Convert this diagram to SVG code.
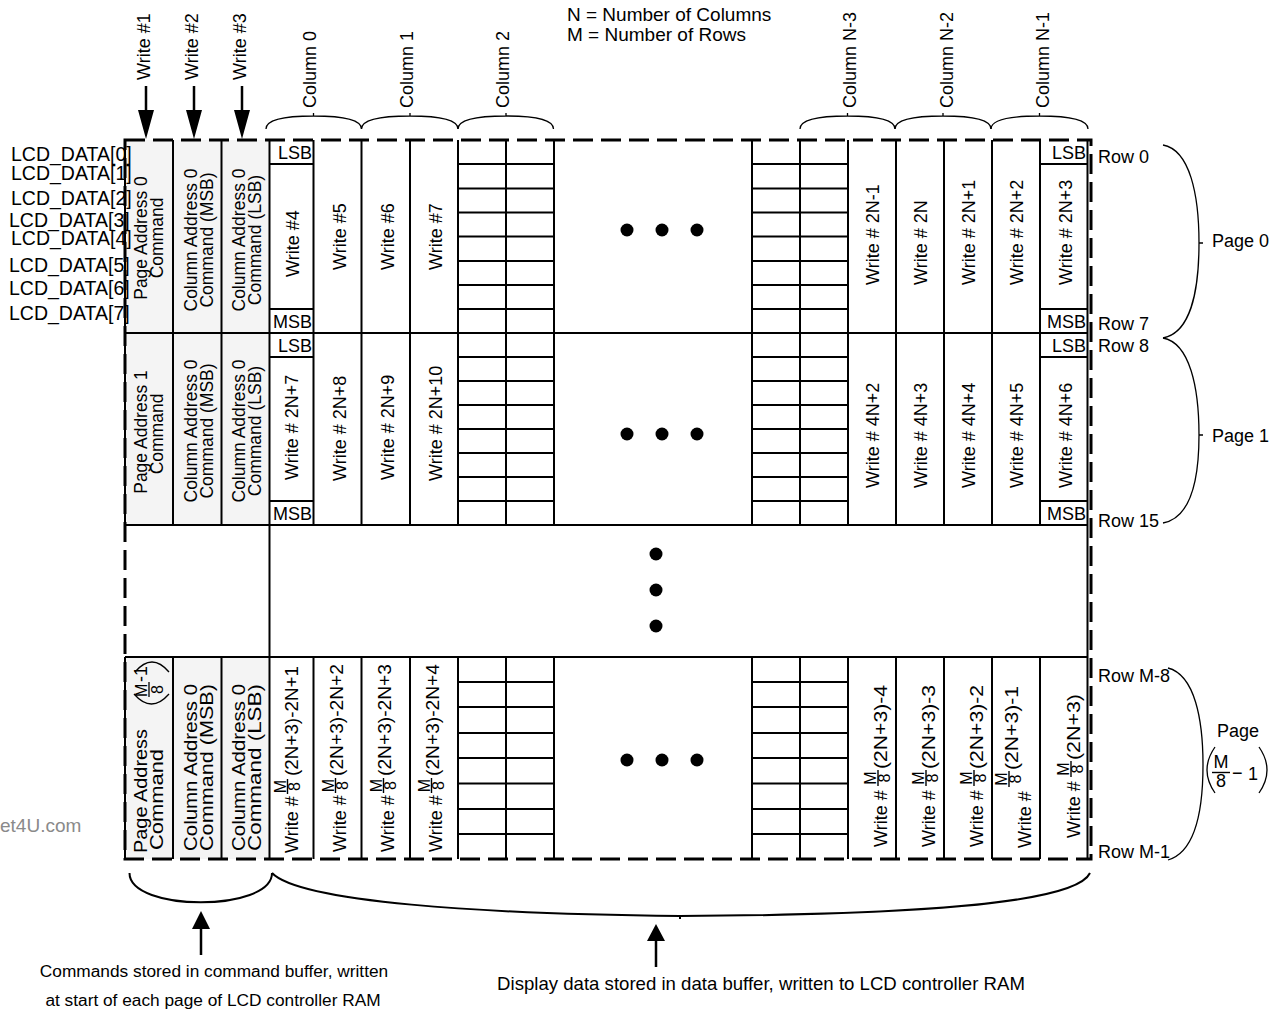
<svg xmlns="http://www.w3.org/2000/svg" width="1280" height="1011" viewBox="0 0 1280 1011">
<style>
.t{font-family:"Liberation Sans",Arial,Helvetica,sans-serif;fill:#000}
.s18{font-size:18px}
.s175{font-size:17.5px}
.s195{font-size:19.5px}
.f{font-size:16px}
.ln{stroke:#000;stroke-width:2;fill:none}
.thin{stroke:#000;stroke-width:1.3;fill:none}
.br{stroke:#000;stroke-width:2;fill:none}
.bar{stroke:#000;stroke-width:1.4}
.cmd{fill:#f4f4f4}
.dash{stroke:#000;stroke-width:3;fill:none;stroke-dasharray:20 8}
</style>
<rect width="1280" height="1011" fill="#fff"/>

<!-- legend -->
<g id="legend">
<text class="t" style="font-size:19px" x="567" y="21">N = Number of Columns</text>
<text class="t" style="font-size:19px" x="567" y="40.5">M = Number of Rows</text>
</g>

<text class="t" x="0" y="832" style="font-size:19px;fill:#8a8a8a">et4U.com</text>

<!-- command cell fills -->
<g id="cmd-fills">
<rect class="cmd" x="125" y="140" width="144.5" height="193"/>
<rect class="cmd" x="125" y="333" width="144.5" height="192"/>
<rect class="cmd" x="125" y="657" width="144.5" height="202"/>
</g>

<!-- page 0 -->
<g id="page0">
<path class="ln" d="M125,140V333 M173,140V333 M221.5,140V333 M313.5,140V333 M361.5,140V333 M410,140V333 M458,140V333 M506,140V333 M554,140V333 M752,140V333 M800,140V333 M848,140V333 M896,140V333 M944,140V333 M992,140V333 M1040,140V333"/>
<path class="ln" d="M269.5,164H313.5 M269.5,309H313.5 M1040,164H1087.5 M1040,309H1087.5"/>
<path class="ln" d="M458,164H554 M458,188.5H554 M458,212.5H554 M458,236.5H554 M458,261H554 M458,285H554 M458,309H554 M752,164H848 M752,188.5H848 M752,212.5H848 M752,236.5H848 M752,261H848 M752,285H848 M752,309H848"/>
<g class="t s175" text-anchor="middle">
<text transform="translate(146.5 238) rotate(-90)">Page Address 0</text>
<text transform="translate(163 238) rotate(-90)">Command</text>
<text transform="translate(196.5 240) rotate(-90)">Column Address 0</text>
<text transform="translate(212.5 240) rotate(-90)">Command (MSB)</text>
<text transform="translate(244.5 240) rotate(-90)">Column Address 0</text>
<text transform="translate(260.5 240) rotate(-90)">Command (LSB)</text>
</g>
<g class="t s18">
<text x="312" y="159" text-anchor="end">LSB</text>
<text x="312" y="328" text-anchor="end">MSB</text>
<text x="1086" y="159" text-anchor="end">LSB</text>
<text x="1086" y="328" text-anchor="end">MSB</text>
<text transform="translate(298.5 277) rotate(-90)">Write #4</text>
<text transform="translate(346 270) rotate(-90)">Write #5</text>
<text transform="translate(394 270) rotate(-90)">Write #6</text>
<text transform="translate(442 270) rotate(-90)">Write #7</text>
<text transform="translate(879 285) rotate(-90)">Write # 2N-1</text>
<text transform="translate(927 285) rotate(-90)">Write # 2N</text>
<text transform="translate(975 285) rotate(-90)">Write # 2N+1</text>
<text transform="translate(1023 285) rotate(-90)">Write # 2N+2</text>
<text transform="translate(1072 285) rotate(-90)">Write # 2N+3</text>
</g>
<circle cx="627" cy="230" r="6.5"/><circle cx="662" cy="230" r="6.5"/><circle cx="697" cy="230" r="6.5"/>
</g>

<!-- page 1 -->
<g id="page1">
<path class="ln" d="M125,333V525 M173,333V525 M221.5,333V525 M313.5,333V525 M361.5,333V525 M410,333V525 M458,333V525 M506,333V525 M554,333V525 M752,333V525 M800,333V525 M848,333V525 M896,333V525 M944,333V525 M992,333V525 M1040,333V525"/>
<path class="ln" d="M269.5,357H313.5 M269.5,501H313.5 M1040,357H1087.5 M1040,501H1087.5"/>
<path class="ln" d="M458,357H554 M458,381H554 M458,405H554 M458,429H554 M458,453H554 M458,477H554 M458,501H554 M752,357H848 M752,381H848 M752,405H848 M752,429H848 M752,453H848 M752,477H848 M752,501H848"/>
<g class="t s175" text-anchor="middle">
<text transform="translate(146.5 432) rotate(-90)">Page Address 1</text>
<text transform="translate(163 434) rotate(-90)">Command</text>
<text transform="translate(196.5 431) rotate(-90)">Column Address 0</text>
<text transform="translate(212.5 431) rotate(-90)">Command (MSB)</text>
<text transform="translate(244.5 431) rotate(-90)">Column Address 0</text>
<text transform="translate(260.5 431) rotate(-90)">Command (LSB)</text>
</g>
<g class="t s18">
<text x="312" y="352" text-anchor="end">LSB</text>
<text x="312" y="520" text-anchor="end">MSB</text>
<text x="1086" y="352" text-anchor="end">LSB</text>
<text x="1086" y="520" text-anchor="end">MSB</text>
<text transform="translate(298 480) rotate(-90)">Write # 2N+7</text>
<text transform="translate(346 481) rotate(-90)">Write # 2N+8</text>
<text transform="translate(394 480) rotate(-90)">Write # 2N+9</text>
<text transform="translate(442 481) rotate(-90)">Write # 2N+10</text>
<text transform="translate(879 488) rotate(-90)">Write # 4N+2</text>
<text transform="translate(927 488) rotate(-90)">Write # 4N+3</text>
<text transform="translate(975 488) rotate(-90)">Write # 4N+4</text>
<text transform="translate(1023 488) rotate(-90)">Write # 4N+5</text>
<text transform="translate(1072 488) rotate(-90)">Write # 4N+6</text>
</g>
<circle cx="627" cy="434" r="6.5"/><circle cx="662" cy="434" r="6.5"/><circle cx="697" cy="434" r="6.5"/>
</g>

<!-- gap region -->
<g id="gap">
<path class="ln" d="M125,333H1087.5 M125,525H1087.5 M125,657H1087.5 M269.5,140V859 M1087.5,140V859"/>
<circle cx="656" cy="554" r="6.5"/><circle cx="656" cy="590" r="6.5"/><circle cx="656" cy="626" r="6.5"/>
</g>

<!-- last page -->
<g id="page-last">
<path class="ln" d="M125,657V859 M173,657V859 M221.5,657V859 M313.5,657V859 M361.5,657V859 M410,657V859 M458,657V859 M506,657V859 M554,657V859 M752,657V859 M800,657V859 M848,657V859 M896,657V859 M944,657V859 M992,657V859 M1040,657V859"/>
<path class="ln" d="M458,682H554 M458,707H554 M458,733H554 M458,758H554 M458,783.5H554 M458,809H554 M458,834H554 M752,682H848 M752,707H848 M752,733H848 M752,758H848 M752,783.5H848 M752,809H848 M752,834H848"/>
<g class="t s18">
<text transform="translate(146.5 853) rotate(-90)" textLength="124" lengthAdjust="spacingAndGlyphs">Page Address</text>
<text transform="translate(162.5 850) rotate(-90)" textLength="101" lengthAdjust="spacingAndGlyphs">Command</text>
<text transform="translate(147 697) rotate(-90)" class="f">M</text>
<text transform="translate(163 694) rotate(-90)" class="f">8</text>
<text transform="translate(147 682) rotate(-90)">-1</text>
<text transform="translate(196.5 851) rotate(-90)" textLength="167" lengthAdjust="spacingAndGlyphs">Column Address 0</text>
<text transform="translate(212.5 851) rotate(-90)" textLength="167" lengthAdjust="spacingAndGlyphs">Command (MSB)</text>
<text transform="translate(244.5 851) rotate(-90)" textLength="167" lengthAdjust="spacingAndGlyphs">Column Address 0</text>
<text transform="translate(260.5 851) rotate(-90)" textLength="167" lengthAdjust="spacingAndGlyphs">Command (LSB)</text>
</g>
<path class="thin" d="M149,682V697"/>
<path class="thin" d="M134,694 Q151.5,714 169,694"/>
<path class="thin" d="M135,672 Q152,652 169,672"/>

<g transform="translate(298 853) rotate(-90)" class="t s18">
<text x="0" y="0">Write #</text>
<text class="f" x="66.5" y="-12.5" text-anchor="middle">M</text>
<line class="bar" x1="59" y1="-10.5" x2="74" y2="-10.5"/>
<text class="f" x="66.5" y="2" text-anchor="middle">8</text>
<text x="77" y="0" textLength="110" lengthAdjust="spacingAndGlyphs">(2N+3)-2N+1</text>
</g>
<g transform="translate(346 852) rotate(-90)" class="t s18">
<text x="0" y="0">Write #</text>
<text class="f" x="66.5" y="-12.5" text-anchor="middle">M</text>
<line class="bar" x1="59" y1="-10.5" x2="74" y2="-10.5"/>
<text class="f" x="66.5" y="2" text-anchor="middle">8</text>
<text x="76" y="-3" textLength="112" lengthAdjust="spacingAndGlyphs">(2N+3)-2N+2</text>
</g>
<g transform="translate(394 852) rotate(-90)" class="t s18">
<text x="0" y="0">Write #</text>
<text class="f" x="66.5" y="-12.5" text-anchor="middle">M</text>
<line class="bar" x1="59" y1="-10.5" x2="74" y2="-10.5"/>
<text class="f" x="66.5" y="2" text-anchor="middle">8</text>
<text x="76" y="-3" textLength="112" lengthAdjust="spacingAndGlyphs">(2N+3)-2N+3</text>
</g>
<g transform="translate(442 852) rotate(-90)" class="t s18">
<text x="0" y="0">Write #</text>
<text class="f" x="66.5" y="-12.5" text-anchor="middle">M</text>
<line class="bar" x1="59" y1="-10.5" x2="74" y2="-10.5"/>
<text class="f" x="66.5" y="2" text-anchor="middle">8</text>
<text x="76" y="-3" textLength="112" lengthAdjust="spacingAndGlyphs">(2N+3)-2N+4</text>
</g>

<g transform="translate(887 847) rotate(-90)" class="t s18">
<text x="0" y="0">Write #</text>
<text class="f" x="69" y="-11" text-anchor="middle">M</text>
<line class="bar" x1="61" y1="-9" x2="77" y2="-9"/>
<text class="f" x="69" y="3" text-anchor="middle">8</text>
<text x="78" y="0" textLength="84" lengthAdjust="spacingAndGlyphs">(2N+3)-4</text>
</g>
<g transform="translate(935 847) rotate(-90)" class="t s18">
<text x="0" y="0">Write #</text>
<text class="f" x="69" y="-11" text-anchor="middle">M</text>
<line class="bar" x1="61" y1="-9" x2="77" y2="-9"/>
<text class="f" x="69" y="3" text-anchor="middle">8</text>
<text x="78" y="0" textLength="84" lengthAdjust="spacingAndGlyphs">(2N+3)-3</text>
</g>
<g transform="translate(983 847) rotate(-90)" class="t s18">
<text x="0" y="0">Write #</text>
<text class="f" x="69" y="-11" text-anchor="middle">M</text>
<line class="bar" x1="61" y1="-9" x2="77" y2="-9"/>
<text class="f" x="69" y="3" text-anchor="middle">8</text>
<text x="78" y="0" textLength="84" lengthAdjust="spacingAndGlyphs">(2N+3)-2</text>
</g>
<g transform="translate(1031 848) rotate(-90)" class="t s18">
<text x="0" y="0">Write #</text>
<text class="f" x="69" y="-24" text-anchor="middle">M</text>
<line class="bar" x1="61" y1="-22" x2="77" y2="-22"/>
<text class="f" x="69" y="-10" text-anchor="middle">8</text>
<text x="78" y="-13" textLength="84" lengthAdjust="spacingAndGlyphs">(2N+3)-1</text>
</g>
<g transform="translate(1080 838) rotate(-90)" class="t s18">
<text x="0" y="0">Write #</text>
<text class="f" x="69" y="-11" text-anchor="middle">M</text>
<line class="bar" x1="61" y1="-9" x2="77" y2="-9"/>
<text class="f" x="69" y="3" text-anchor="middle">8</text>
<text x="78" y="0" textLength="66" lengthAdjust="spacingAndGlyphs">(2N+3)</text>
</g>
<circle cx="627" cy="760" r="6.5"/><circle cx="662" cy="760" r="6.5"/><circle cx="697" cy="760" r="6.5"/>
</g>

<!-- outer dashed border -->
<rect id="border" class="dash" x="125" y="140" width="966" height="719"/>

<!-- LCD data labels (drawn over the table edge) -->
<g id="lcd-data-labels" class="t s195">
<text x="11" y="160.5">LCD_DATA[0]</text>
<text x="11" y="180">LCD_DATA[1]</text>
<text x="11" y="205">LCD_DATA[2]</text>
<text x="9" y="226.5">LCD_DATA[3]</text>
<text x="11" y="245">LCD_DATA[4]</text>
<text x="9" y="271.5">LCD_DATA[5]</text>
<text x="9" y="295">LCD_DATA[6]</text>
<text x="9" y="320">LCD_DATA[7]</text>
</g>

<!-- top labels -->
<g id="top-labels" class="t s18">
<text transform="translate(150 80) rotate(-90)">Write #1</text>
<text transform="translate(198 80) rotate(-90)">Write #2</text>
<text transform="translate(246 80) rotate(-90)">Write #3</text>
<text transform="translate(316 108) rotate(-90)">Column 0</text>
<text transform="translate(412.5 108) rotate(-90)">Column 1</text>
<text transform="translate(509 108) rotate(-90)">Column 2</text>
<text transform="translate(856 108) rotate(-90)">Column N-3</text>
<text transform="translate(953 108) rotate(-90)">Column N-2</text>
<text transform="translate(1049 108) rotate(-90)">Column N-1</text>
</g>

<!-- right labels -->
<g id="row-labels" class="t s18">
<text x="1098" y="163">Row 0</text>
<text x="1098" y="330">Row 7</text>
<text x="1098" y="351.5">Row 8</text>
<text x="1098" y="526.5">Row 15</text>
<text x="1098" y="682">Row M-8</text>
<text x="1098" y="858">Row M-1</text>
<text x="1212" y="247">Page 0</text>
<text x="1212" y="442">Page 1</text>
<text x="1217" y="737">Page</text>
<text x="1221" y="768" text-anchor="middle">M</text>
<text x="1221" y="787" text-anchor="middle">8</text>
<text x="1232" y="779">−</text>
<text x="1248" y="780">1</text>
</g>
<path class="bar" d="M1212,772.5H1230"/>
<path class="thin" d="M1215,747 Q1199,770 1215,793 M1259,747 Q1275,770 1259,793"/>

<!-- connectors: arrows and braces -->
<g id="connectors">
<path class="br" d="M146,86V112 M194,86V112 M242,86V112" style="stroke-width:2.5"/>
<path d="M138,110H154L146,139Z M186,110H202L194,139Z M234,110H250L242,139Z" fill="#000"/>
<path class="thin" d="M266,129 C266,118 290,116 313.5,116 C337,116 361.5,118 361.5,129 M313.5,116V113"/>
<path class="thin" d="M361.5,129 C361.5,118 386,116 410,116 C434,116 458,118 458,129 M410,116V113"/>
<path class="thin" d="M458,129 C458,118 482,116 506,116 C530,116 553.5,118 553.5,129 M506,116V113"/>
<path class="thin" d="M800,129 C800,118 824,116 847.5,116 C871,116 895,118 895,129 M847.5,116V113"/>
<path class="thin" d="M895,129 C895,118 919,116 943,116 C967,116 991,118 991,129 M943,116V113"/>
<path class="thin" d="M991,129 C991,118 1015,116 1039.5,116 C1064,116 1088,118 1088,129 M1039.5,116V113"/>
<path class="thin" d="M1163,145 C1190,150 1199,195 1199,243 C1199,292 1190,333 1163,338 M1199,243H1203"/>
<path class="thin" d="M1163,338 C1190,343 1199,388 1199,435 C1199,482 1190,518 1163,523 M1199,435H1203"/>
<path class="thin" d="M1168,668 C1195,675 1203,720 1203,765 C1203,810 1195,852 1168,860"/>
<path class="br" d="M129.5,873 C129.5,912 272,912 272,873"/>
<path class="br" d="M272,873 C300,902 480,914 680,916 C900,915 1075,905 1090,873 M680,916V919"/>
<path class="br" d="M201,928V955 M656,940V967" style="stroke-width:2.5"/>
<path d="M192,929H210L201,911Z M647,941H665L656,924Z" fill="#000"/>
</g>

<!-- captions -->
<g id="captions" class="t">
<text x="214" y="977" text-anchor="middle" style="font-size:17.3px">Commands stored in command buffer, written</text>
<text x="213" y="1006" text-anchor="middle" style="font-size:17.3px">at start of each page of LCD controller RAM</text>
<text x="761" y="990" text-anchor="middle" style="font-size:18.6px">Display data stored in data buffer, written to LCD controller RAM</text>
</g>
</svg>
